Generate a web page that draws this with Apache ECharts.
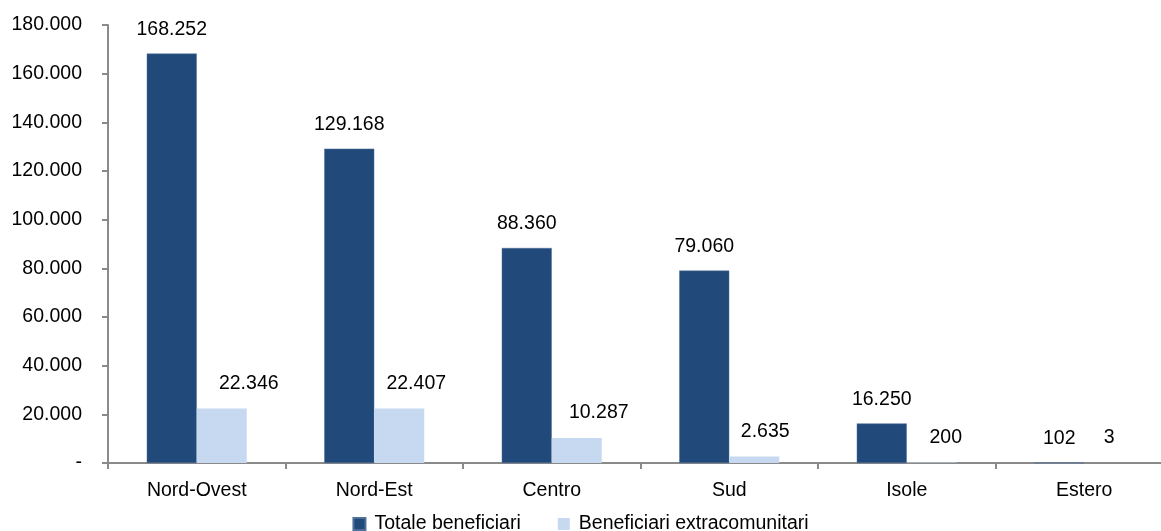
<!DOCTYPE html>
<html>
<head>
<meta charset="utf-8">
<script src="https://cdn.jsdelivr.net/npm/echarts@6/dist/echarts.min.js"></script>
<style>html,body{margin:0;padding:0;background:#fff}#c{width:1161px;height:531px}</style>
</head>
<body>
<div id="c"></div>
<script>
const categories = ['Nord-Ovest', 'Nord-Est', 'Centro', 'Sud', 'Isole', 'Estero'];
const totale = [168252, 129168, 88360, 79060, 16250, 102];
const extra = [22346, 22407, 10287, 2635, 200, 3];
const seriesNames = ['Totale beneficiari', 'Beneficiari extracomunitari'];

// label nudges (style only)
const extraLabelShift = [27, 17, 22, 11, 14, 0];

function fmt(v) {
  if (v === 0) return '-';
  return String(Math.round(v)).replace(/\B(?=(\d{3})+(?!\d))/g, '.');
}

const FONT = 'Liberation Sans, Arial, sans-serif';
const FS = 19.5;
const chart = echarts.init(document.getElementById('c'), null, {renderer: 'canvas'});
chart.setOption({
  animation: false,
  backgroundColor: '#fff',
  textStyle: {fontFamily: FONT},
  grid: {left: 108, width: 1065, top: 25, bottom: 68, containLabel: false, outerBoundsMode: 'none'},
  legend: {
    bottom: -8, left: 'center',
    itemWidth: 12, itemHeight: 12, itemGap: 37,
    icon: 'rect',
    textStyle: {fontFamily: FONT, fontSize: FS, color: '#000', padding: [0,0,0,4]},
    data: seriesNames
  },
  xAxis: {
    type: 'category', data: categories,
    axisLine: {lineStyle: {color: '#8a8a8a', width: 2}},
    axisTick: {show: true, length: 6, lineStyle: {color: '#8a8a8a', width: 2}},
    axisLabel: {fontFamily: FONT, fontSize: FS, color: '#000', margin: 18}
  },
  yAxis: {
    type: 'value', min: 0, max: 180000, interval: 20000,
    axisLine: {show: true, lineStyle: {color: '#8a8a8a', width: 2}},
    axisTick: {show: true, length: 6, lineStyle: {color: '#8a8a8a', width: 2}},
    splitLine: {show: false},
    axisLabel: {fontFamily: FONT, fontSize: FS, color: '#000', margin: 26, formatter: fmt}
  },
  series: [
    {
      name: seriesNames[0], type: 'bar', data: totale,
      barWidth: 50, barGap: '0%',
      itemStyle: {color: '#214a7b', borderColor: '#4f6f9a', borderWidth: 0.5},
      label: {show: true, position: 'top', distance: 14, fontFamily: FONT, fontSize: FS, color: '#000', formatter: p => fmt(p.value)}
    },
    {
      name: seriesNames[1], type: 'bar',
      data: extra.map((v, i) => ({value: v, label: {offset: [extraLabelShift[i], 0]}})),
      barWidth: 50, barGap: '0%',
      itemStyle: {color: '#c6d9f1'},
      label: {show: true, position: 'top', distance: 15, fontFamily: FONT, fontSize: FS, color: '#000', formatter: p => fmt(p.value)}
    }
  ]
});
</script>
</body>
</html>
